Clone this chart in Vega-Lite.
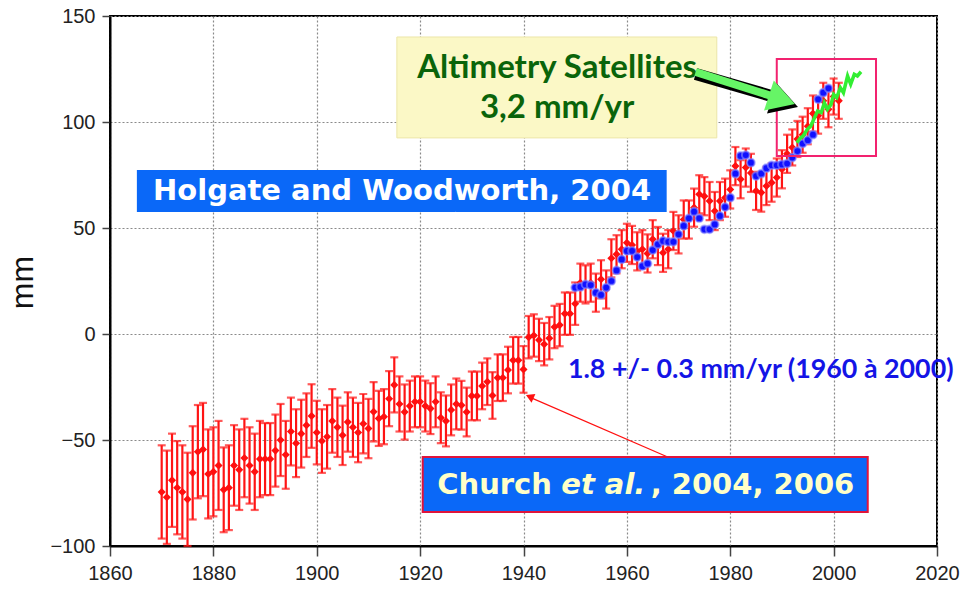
{
  "$schema": "https://vega.github.io/schema/vega-lite/v6.json",
  "width": 827,
  "height": 530,
  "autosize": "none",
  "padding": {"left": 110, "top": 16, "right": 27, "bottom": 44},
  "background": "white",
  "config": {
    "view": {"stroke": "black", "strokeWidth": 2},
    "axis": {
      "grid": true, "gridDash": [2, 2], "gridColor": "#8a8a8a", "gridWidth": 1.2,
      "domainColor": "black", "domainWidth": 2, "tickColor": "#444", "tickWidth": 1.5, "tickSize": 10,
      "labelFont": "Liberation Sans", "labelFontSize": 20, "labelColor": "#222", "labelPadding": 4,
      "labelFlush": false, "labelOverlap": false, "labelBound": false
    }
  },
  "datasets": {
    "church": [
      {"year":1870,"mm":-74.5,"err":22},{"year":1871,"mm":-77,"err":22},{"year":1872,"mm":-69,"err":22},{"year":1873,"mm":-72.5,"err":22},{"year":1874,"mm":-74.5,"err":22},
      {"year":1875,"mm":-78,"err":22},{"year":1876,"mm":-65.5,"err":22},{"year":1877,"mm":-55.5,"err":22},{"year":1878,"mm":-54.5,"err":22},{"year":1879,"mm":-66,"err":21},
      {"year":1880,"mm":-65,"err":21},{"year":1881,"mm":-62,"err":21},{"year":1882,"mm":-73.5,"err":20},{"year":1883,"mm":-72.5,"err":20},{"year":1884,"mm":-62,"err":19},
      {"year":1885,"mm":-64,"err":19},{"year":1886,"mm":-58.5,"err":18.5},{"year":1887,"mm":-62,"err":18},{"year":1888,"mm":-65,"err":18},{"year":1889,"mm":-59,"err":18},
      {"year":1890,"mm":-59,"err":17},{"year":1891,"mm":-59,"err":17},{"year":1892,"mm":-55,"err":17},{"year":1893,"mm":-50,"err":17},{"year":1894,"mm":-57,"err":16},
      {"year":1895,"mm":-46,"err":16},{"year":1896,"mm":-51.5,"err":16},{"year":1897,"mm":-47,"err":16},{"year":1898,"mm":-43,"err":15},{"year":1899,"mm":-38.7,"err":15},
      {"year":1900,"mm":-46.5,"err":15},{"year":1901,"mm":-50.5,"err":15},{"year":1902,"mm":-48.5,"err":15},{"year":1903,"mm":-41,"err":15},{"year":1904,"mm":-44,"err":14},
      {"year":1905,"mm":-47.8,"err":14},{"year":1906,"mm":-41.5,"err":14},{"year":1907,"mm":-44,"err":14},{"year":1908,"mm":-46.5,"err":14},{"year":1909,"mm":-42.3,"err":14},
      {"year":1910,"mm":-44.6,"err":14},{"year":1911,"mm":-36.7,"err":14},{"year":1912,"mm":-39.8,"err":13},{"year":1913,"mm":-39,"err":13},{"year":1914,"mm":-30.5,"err":13},
      {"year":1915,"mm":-24,"err":13},{"year":1916,"mm":-33,"err":13},{"year":1917,"mm":-36.8,"err":13},{"year":1918,"mm":-34,"err":12},{"year":1919,"mm":-32,"err":12},
      {"year":1920,"mm":-32,"err":12},{"year":1921,"mm":-34,"err":12},{"year":1922,"mm":-35.2,"err":12},{"year":1923,"mm":-32,"err":12},{"year":1924,"mm":-39.5,"err":12},
      {"year":1925,"mm":-41,"err":12},{"year":1926,"mm":-35.8,"err":12},{"year":1927,"mm":-33,"err":12},{"year":1928,"mm":-33.6,"err":11.5},{"year":1929,"mm":-36.8,"err":11.5},
      {"year":1930,"mm":-29.2,"err":11.5},{"year":1931,"mm":-29.2,"err":11.5},{"year":1932,"mm":-24.5,"err":11},{"year":1933,"mm":-22.5,"err":11},{"year":1934,"mm":-29,"err":11},
      {"year":1935,"mm":-20.6,"err":11},{"year":1936,"mm":-20.6,"err":11},{"year":1937,"mm":-17,"err":11},{"year":1938,"mm":-12.4,"err":11},{"year":1939,"mm":-12.4,"err":11},
      {"year":1940,"mm":-16.7,"err":11},{"year":1941,"mm":-1.5,"err":10},{"year":1942,"mm":-0.7,"err":10},{"year":1943,"mm":-2.8,"err":10},{"year":1944,"mm":-4.8,"err":10},
      {"year":1945,"mm":-2,"err":10},{"year":1946,"mm":3.3,"err":10},{"year":1947,"mm":4.2,"err":10},{"year":1948,"mm":9.6,"err":10},{"year":1949,"mm":9.6,"err":10},
      {"year":1950,"mm":14.3,"err":10},{"year":1951,"mm":24.2,"err":9},{"year":1952,"mm":23.4,"err":9},{"year":1953,"mm":24.2,"err":9},{"year":1954,"mm":19.5,"err":9},
      {"year":1955,"mm":25.8,"err":9},{"year":1956,"mm":21,"err":9},{"year":1957,"mm":35.7,"err":9},{"year":1958,"mm":37.6,"err":9},{"year":1959,"mm":40,"err":9},
      {"year":1960,"mm":43,"err":9},{"year":1961,"mm":42,"err":9},{"year":1962,"mm":39,"err":9},{"year":1963,"mm":40,"err":9},{"year":1964,"mm":38,"err":9},
      {"year":1965,"mm":44.7,"err":9},{"year":1966,"mm":41.5,"err":9},{"year":1967,"mm":38.3,"err":9},{"year":1968,"mm":40,"err":9},{"year":1969,"mm":48.6,"err":9},
      {"year":1970,"mm":47,"err":9},{"year":1971,"mm":54,"err":9},{"year":1972,"mm":54,"err":9},{"year":1973,"mm":59.6,"err":9},{"year":1974,"mm":65.9,"err":9},
      {"year":1975,"mm":65,"err":9},{"year":1976,"mm":62.7,"err":9},{"year":1977,"mm":58,"err":9},{"year":1978,"mm":62.7,"err":9},{"year":1979,"mm":64.3,"err":9},
      {"year":1980,"mm":68.2,"err":9},{"year":1981,"mm":79.2,"err":9},{"year":1982,"mm":73,"err":9},{"year":1983,"mm":78.5,"err":9},{"year":1984,"mm":76,"err":9},
      {"year":1985,"mm":67.5,"err":9},{"year":1986,"mm":66.7,"err":9},{"year":1987,"mm":69.8,"err":9},{"year":1988,"mm":71.4,"err":9},{"year":1989,"mm":73.8,"err":9},
      {"year":1990,"mm":77.7,"err":9},{"year":1991,"mm":85,"err":9},{"year":1992,"mm":88,"err":8.5},{"year":1993,"mm":92,"err":8.5},{"year":1994,"mm":94,"err":8.5},
      {"year":1995,"mm":98,"err":8.5},{"year":1996,"mm":104,"err":8.5},{"year":1997,"mm":103,"err":8.5},{"year":1998,"mm":110,"err":8.5},{"year":1999,"mm":106,"err":8.5},
      {"year":2000,"mm":112,"err":8.5},{"year":2001,"mm":110,"err":8.5}
    ],
    "holgate": [
      {"year":1950,"mm":21.9},{"year":1951,"mm":22.2},{"year":1952,"mm":23.4},{"year":1953,"mm":23.1},{"year":1954,"mm":19.5},
      {"year":1955,"mm":18.4},{"year":1956,"mm":21.9},{"year":1957,"mm":25},{"year":1958,"mm":30},{"year":1959,"mm":35.2},
      {"year":1960,"mm":39.2},{"year":1961,"mm":39.2},{"year":1962,"mm":36.3},{"year":1963,"mm":32},{"year":1964,"mm":33.2},
      {"year":1965,"mm":39.6},{"year":1966,"mm":42.3},{"year":1967,"mm":43.9},{"year":1968,"mm":43.5},{"year":1969,"mm":43.5},
      {"year":1970,"mm":47},{"year":1971,"mm":51},{"year":1972,"mm":54.6},{"year":1973,"mm":57.7},{"year":1974,"mm":54.6},
      {"year":1975,"mm":49.4},{"year":1976,"mm":49.4},{"year":1977,"mm":51.7},{"year":1978,"mm":55.7},{"year":1979,"mm":59.9},
      {"year":1980,"mm":64.3},{"year":1981,"mm":75.6},{"year":1982,"mm":84},{"year":1983,"mm":84.4},{"year":1984,"mm":80.8},
      {"year":1985,"mm":74.5},{"year":1986,"mm":75.6},{"year":1987,"mm":78.2},{"year":1988,"mm":79.6},{"year":1989,"mm":79.6},
      {"year":1990,"mm":80},{"year":1991,"mm":80.4},{"year":1992,"mm":83.2},{"year":1993,"mm":86.3},{"year":1994,"mm":89.8},
      {"year":1995,"mm":91.4},{"year":1996,"mm":94},{"year":1997,"mm":110.7},{"year":1998,"mm":113.8},{"year":1999,"mm":115.9}
    ],
    "satellite": [
      {"year":1992.9,"mm":90.2},{"year":1993.5,"mm":92.3},{"year":1994.1,"mm":93.4},{"year":1994.9,"mm":96.5},{"year":1995.6,"mm":98.1},
      {"year":1996.3,"mm":102},{"year":1996.9,"mm":105.2},{"year":1997.6,"mm":104.4},{"year":1998.2,"mm":109.1},{"year":1998.8,"mm":106},
      {"year":1999.5,"mm":108.3},{"year":2000.0,"mm":113},{"year":2000.6,"mm":111.5},{"year":2001.3,"mm":116.2},{"year":2001.9,"mm":113.8},
      {"year":2002.7,"mm":121.7},{"year":2003.3,"mm":117.8},{"year":2004.0,"mm":122.5},{"year":2004.6,"mm":121.7},{"year":2005.3,"mm":123.7}
    ]
  },
  "layer": [
    {
      "data": {"name": "church"},
      "mark": {"type": "errorbar", "color": "#ff1414", "thickness": 2.2, "ticks": {"size": 8, "thickness": 2.2, "color": "#ff1414"}},
      "encoding": {
        "x": {"field": "year", "type": "quantitative", "scale": {"domain": [1860, 2020], "nice": false, "zero": false},
          "axis": {"values": [1860, 1880, 1900, 1920, 1940, 1960, 1980, 2000, 2020], "format": "d", "title": null, "labelPadding": 7,
            "labelFont": "Liberation Sans", "labelFontSize": 20, "labelColor": "#222", "tickSize": 10, "labelFlush": false}},
        "y": {"field": "mm", "type": "quantitative", "scale": {"domain": [-100, 150], "nice": false, "zero": false},
          "axis": {"values": [-100, -50, 0, 50, 100, 150], "title": "mm", "titleFont": "Liberation Sans", "titleFontSize": 32, "titleFontWeight": "normal", "titleColor": "#111",
            "titleX": -88, "titleY": 266, "titleAlign": "center", "titleBaseline": "middle", "titleAngle": -90, "tickSize": 8, "labelPadding": 7,
            "labelFont": "Liberation Sans", "labelFontSize": 20, "labelColor": "#222", "labelFlush": false}},
        "yError": {"field": "err"}
      }
    },
    {
      "data": {"name": "church"},
      "mark": {"type": "point", "filled": true, "shape": "diamond", "color": "#ff1010", "size": 65, "opacity": 1},
      "encoding": {"x": {"field": "year", "type": "quantitative"}, "y": {"field": "mm", "type": "quantitative"}}
    },
    {
      "data": {"name": "holgate"},
      "mark": {"type": "circle", "color": "#1010ff", "size": 60, "opacity": 1, "stroke": "#8c8cff", "strokeOpacity": 0.6, "strokeWidth": 2},
      "encoding": {"x": {"field": "year", "type": "quantitative"}, "y": {"field": "mm", "type": "quantitative"}}
    },
    {
      "data": {"name": "satellite"},
      "mark": {"type": "line", "color": "#33ee33", "strokeWidth": 3.5},
      "encoding": {"x": {"field": "year", "type": "quantitative"}, "y": {"field": "mm", "type": "quantitative"}}
    },
    {
      "data": {"values": [{}]},
      "mark": {"type": "rect", "fill": null, "fillOpacity": 0, "stroke": "#f2226f", "strokeWidth": 2},
      "encoding": {"x": {"datum": 1989.0}, "x2": {"datum": 2008.2}, "y": {"datum": 129.7}, "y2": {"datum": 84}}
    },
    {
      "data": {"values": [{}]},
      "mark": {"type": "rect", "fill": "#fbf8c6", "stroke": "#ece6a8", "strokeWidth": 1},
      "encoding": {"x": {"datum": 1915.5}, "x2": {"datum": 1977.4}, "y": {"datum": 140.1}, "y2": {"datum": 92.5}}
    },
    {
      "data": {"values": [{}]},
      "mark": {"type": "text", "text": "Altimetry Satellites", "font": "Lato", "fontWeight": "bold", "fontSize": 33, "color": "#0a640a", "align": "center", "baseline": "middle"},
      "encoding": {"x": {"datum": 1946.5}, "y": {"datum": 125.3}}
    },
    {
      "data": {"values": [{}]},
      "mark": {"type": "text", "text": "3,2 mm/yr", "font": "Lato", "fontWeight": "bold", "fontSize": 33, "color": "#0a640a", "align": "center", "baseline": "middle"},
      "encoding": {"x": {"datum": 1946.5}, "y": {"datum": 106.6}}
    },
    {
      "data": {"values": [{}]},
      "mark": {"type": "rule", "color": "black", "strokeWidth": 12, "yOffset": 2},
      "encoding": {"x": {"datum": 1973.3}, "x2": {"datum": 1988.6}, "y": {"datum": 123.6}, "y2": {"datum": 111.8}}
    },
    {
      "data": {"values": [{}]},
      "mark": {"type": "rule", "color": "#66f566", "strokeWidth": 8},
      "encoding": {"x": {"datum": 1973.3}, "x2": {"datum": 1988.6}, "y": {"datum": 123.6}, "y2": {"datum": 111.8}}
    },
    {
      "data": {"values": [{}]},
      "mark": {"type": "point", "shape": "triangle-right", "filled": true, "color": "black", "opacity": 1, "size": 1000, "angle": 18, "xOffset": 3, "yOffset": 3},
      "encoding": {"x": {"datum": 1990.0}, "y": {"datum": 110.5}}
    },
    {
      "data": {"values": [{}]},
      "mark": {"type": "point", "shape": "triangle-right", "filled": true, "color": "#66f566", "opacity": 1, "size": 1000, "angle": 18},
      "encoding": {"x": {"datum": 1990.0}, "y": {"datum": 110.5}}
    },
    {
      "data": {"values": [{}]},
      "mark": {"type": "rect", "fill": "#0a68f8"},
      "encoding": {"x": {"datum": 1865.2}, "x2": {"datum": 1967.7}, "y": {"datum": 77.4}, "y2": {"datum": 57.5}}
    },
    {
      "data": {"values": [{}]},
      "mark": {"type": "rule", "color": "white", "strokeWidth": 1},
      "encoding": {"x": {"datum": 1926.9}, "x2": {"datum": 1933.1}, "y": {"datum": 57.5}, "y2": {"datum": 49.5}}
    },
    {
      "data": {"values": [{}]},
      "mark": {"type": "text", "text": "Holgate and Woodworth, 2004", "font": "DejaVu Sans", "fontWeight": "bold", "fontSize": 29, "color": "white", "align": "center", "baseline": "middle"},
      "encoding": {"x": {"datum": 1916.5}, "y": {"datum": 67.3}}
    },
    {
      "data": {"values": [{}]},
      "mark": {"type": "text", "text": "1.8 +/- 0.3 mm/yr (1960 à 2000)", "font": "Lato", "fontWeight": "bold", "fontSize": 26.8, "color": "#1414e6", "align": "left", "baseline": "middle"},
      "encoding": {"x": {"datum": 1948.6}, "y": {"datum": -17}}
    },
    {
      "data": {"values": [{}]},
      "mark": {"type": "rule", "color": "#ff1010", "strokeWidth": 1.2},
      "encoding": {"x": {"datum": 1967.9}, "x2": {"datum": 1941.4}, "y": {"datum": -58}, "y2": {"datum": -30}}
    },
    {
      "data": {"values": [{}]},
      "mark": {"type": "point", "shape": "triangle-right", "filled": true, "color": "#ff1010", "opacity": 1, "size": 90, "angle": 203.5},
      "encoding": {"x": {"datum": 1941.2}, "y": {"datum": -29.6}}
    },
    {
      "data": {"values": [{}]},
      "mark": {"type": "rect", "fill": "#0a68f8", "stroke": "#e0143c", "strokeWidth": 2},
      "encoding": {"x": {"datum": 1920.5}, "x2": {"datum": 2006.6}, "y": {"datum": -58}, "y2": {"datum": -84}}
    },
    {
      "data": {"values": [{}]},
      "mark": {"type": "text", "text": "Church", "font": "DejaVu Sans", "fontWeight": "bold", "fontSize": 29, "color": "#ffffc8", "align": "right", "baseline": "middle"},
      "encoding": {"x": {"datum": 1945.5}, "y": {"datum": -71}}
    },
    {
      "data": {"values": [{}]},
      "mark": {"type": "text", "text": "et al.", "font": "DejaVu Sans", "fontWeight": "bold", "fontStyle": "italic", "fontSize": 29, "color": "#ffffc8", "align": "left", "baseline": "middle"},
      "encoding": {"x": {"datum": 1947.3}, "y": {"datum": -71}}
    },
    {
      "data": {"values": [{}]},
      "mark": {"type": "text", "text": ", 2004, 2006", "font": "DejaVu Sans", "fontWeight": "bold", "fontSize": 29, "color": "#ffffc8", "align": "left", "baseline": "middle"},
      "encoding": {"x": {"datum": 1964.6}, "y": {"datum": -71}}
    }
  ]
}
